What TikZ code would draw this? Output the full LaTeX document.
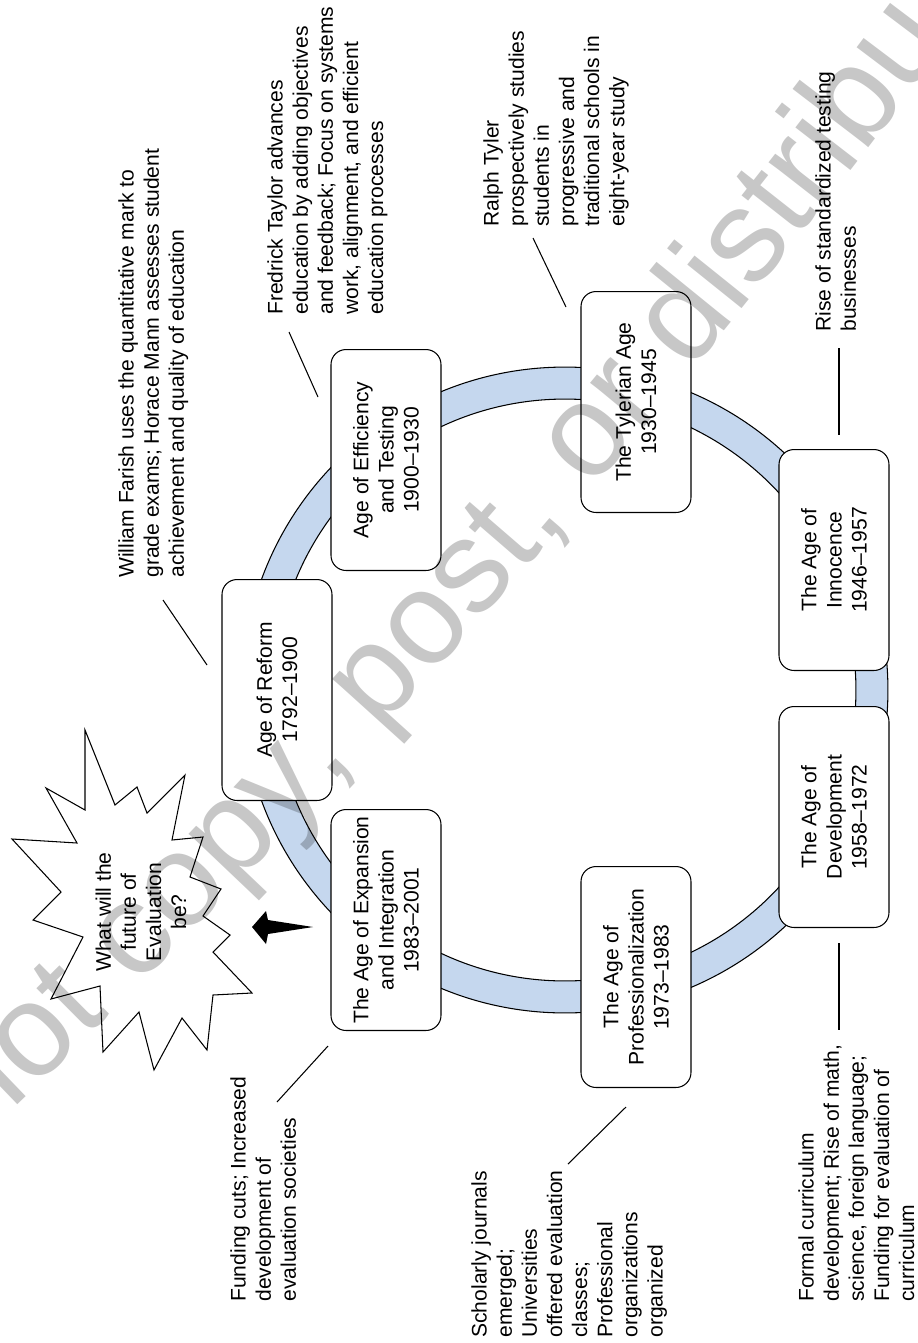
\documentclass[tikz,border=0pt]{standalone}
\usepackage{fontspec}
\setmainfont{Liberation Sans}
\usetikzlibrary{decorations.text}
\definecolor{ringblue}{RGB}{197,215,238}
\newcommand\wmfont{\fontsize{75}{75}\selectfont}
\begin{document}
\begin{tikzpicture}[x=0.02cm, y=-0.02cm,
    every node/.style={font=\fontsize{12}{14.3}\selectfont},
    age/.style={draw, line width=0.6pt, fill=white, rounded corners=0.3cm,
      rotate=90, minimum width=4.42cm, minimum height=2.2cm, align=center, inner sep=2pt},
    note/.style={rotate=90, anchor=north west, align=left, inner sep=0pt}]
      \useasboundingbox (0,0) rectangle (917,1343);
      \path[fill=ringblue, draw=black, line width=0.6pt, even odd rule]
        (565,690) circle (6.46cm) (565,690) circle (5.82cm);
      \draw
        (277,690) node[age] (reform){Age of Reform\\1792--1900}
        (386,460) node[age] (efficiency){Age of Efficiency\\and Testing\\1900--1930}
        (636,402) node[age] (tyler){The Tylerian Age\\1930--1945}
        (834,560) node[age] (innocence){The Age of\\Innocence\\1946--1957}
        (834,817) node[age] (development){The Age of\\Development\\1958--1972}
        (636,977) node[age] (professional){The Age of\\Professionalization\\1973--1983}
        (386,920) node[age] (expansion){The Age of Expansion\\and Integration\\1983--2001};
      \draw
        (118,578) node[note] (farish){William Farish uses the quantitative mark to\\grade exams; Horace Mann assesses student\\achievement and quality of education}
        (267,315) node[note] (taylor){Fredrick Taylor advances\\education by adding objectives\\and feedback; Focus on systems\\work, alignment, and efficient\\education processes}
        (483,227) node[note] (ralph){Ralph Tyler\\prospectively studies\\students in\\progressive and\\traditional schools in\\eight-year study}
        (815,332) node[note] (testing){Rise of standardized testing\\businesses}
        (798,1302) node[note] (curriculum){Formal curriculum\\development; Rise of math,\\science, foreign language;\\Funding for evaluation of\\curriculum}
        (471,1338) node[note] (journals){Scholarly journals\\emerged;\\Universities\\offered evaluation\\classes;\\Professional\\organizations\\organized}
        (230,1302) node[note] (funding){Funding cuts; Increased\\development of\\evaluation societies};
      \draw
        (163,600) coordinate (farish1) (207,665) coordinate (farish2)
        (289,332) coordinate (taylor1) (318,397) coordinate (taylor2)
        (533,238) coordinate (ralph1) (566,307) coordinate (ralph2)
        (839,348) coordinate (testing1) (839,435) coordinate (testing2)
        (839,943) coordinate (curriculum1) (839,1030) coordinate (curriculum2)
        (626,1107) coordinate (journals1) (568,1164) coordinate (journals2)
        (328,1046) coordinate (funding1) (277,1102) coordinate (funding2);
      \begin{scope}[-, line width=0.6pt]
        \draw (farish1) to (farish2);
        \draw (taylor1) to (taylor2);
        \draw (ralph1) to (ralph2);
        \draw (testing1) to (testing2);
        \draw (curriculum1) to (curriculum2);
        \draw (journals1) to (journals2);
        \draw (funding1) to (funding2);
      \end{scope}
      \draw[fill=white, line width=0.6pt]
        (85,730) -- (115,805) -- (137,787) -- (147,813) -- (185,775) -- (172,840)
        -- (203,837) -- (190,877) -- (221,889) -- (203,916) -- (230,935) -- (213,952)
        -- (252,993) -- (213,995) -- (207,1050) -- (182,1018) -- (154,1070) -- (139,1012)
        -- (103,1052) -- (100,986) -- (51,999) -- (83,937) -- (33,920) -- (61,892)
        -- (12,839) -- (77,843) -- (46,788) -- (85,810) -- cycle;
      \draw (141,912) node[rotate=90, align=center] (future){What will the\\future of\\Evaluation\\be?};
      \fill (252,927) -- (266,911) -- (268,920) -- (313,927) -- (268,934) -- (266,944) -- cycle;
      \begin{scope}[opacity=0.22]
        \clip (0,0) rectangle (917,1343);
        \path[decorate, decoration={text along path, text={|\wmfont|Do not copy, post, or distribute}}]
          (-171,1281) .. controls (254,898) and (656,446) .. (1035,-75);
      \end{scope}
    \end{tikzpicture}
\end{document}
